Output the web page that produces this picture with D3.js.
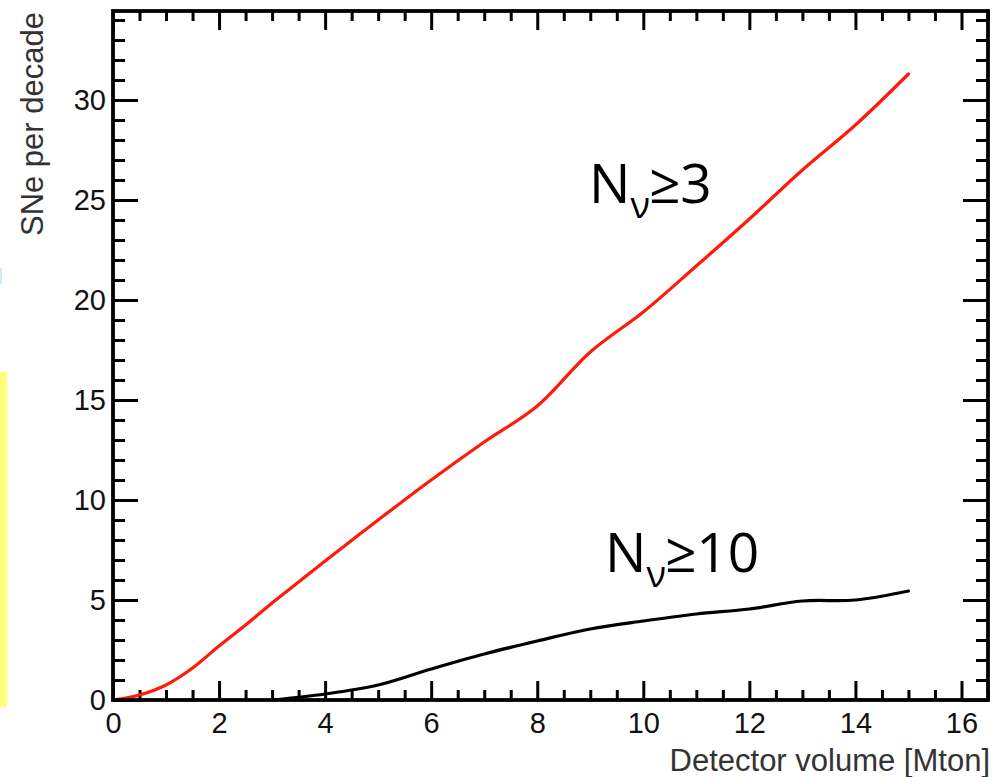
<!DOCTYPE html>
<html>
<head>
<meta charset="utf-8">
<script src="https://cdn.jsdelivr.net/npm/d3@7"></script>
<style>
  html, body { margin: 0; padding: 0; background: #fff; }
  svg { display: block; }
  .axis text { font-family: "Liberation Sans", Arial, sans-serif; fill: #111; }
  .axis line { stroke: #000; stroke-width: 3; }
  .axis path { display: none; }
</style>
</head>
<body>
<svg id="chart" width="1003" height="777"></svg>
<script>
// --- data ---
const volumeN3 = [0, 0.5, 1, 1.5, 2, 2.5, 3, 3.5, 4, 5, 6, 7, 8, 9, 10, 11, 12, 13, 14, 15];
const snN3 = [0, 0.25, 0.75, 1.6, 2.7, 3.75, 4.85, 5.9, 6.95, 9.0, 11.0, 12.9, 14.7, 17.4, 19.4, 21.7, 24.05, 26.5, 28.75, 31.3];

const volumeN10 = [3, 4, 5, 6, 7, 8, 9, 10, 11, 12, 13, 14, 15];
const snN10 = [0, 0.3, 0.75, 1.55, 2.3, 2.95, 3.55, 3.95, 4.3, 4.55, 4.95, 5.0, 5.45];

const xMajorTicks = [0, 2, 4, 6, 8, 10, 12, 14, 16];
const yMajorTicks = [0, 5, 10, 15, 20, 25, 30];
const xTitle = "Detector volume [Mton]";
const yTitle = "SNe per decade";

// --- layout ---
const width = 1003;
const height = 777;
const margin = { left: 113, right: 15, top: 11, bottom: 77 };

const svg = d3.select("#chart");

// slide artefacts on the left edge
svg.append("rect").attr("x", 0).attr("y", 372).attr("width", 7).attr("height", 335).attr("fill", "#ffff78");
svg.append("rect").attr("x", 0).attr("y", 268).attr("width", 2).attr("height", 16).attr("fill", "#cfeaff");

const xScale = d3.scaleLinear()
	.domain([0, 16.5])
	.range([margin.left, width - margin.right]);

const yScale = d3.scaleLinear()
	.domain([0, 34.45])
	.range([height - margin.bottom, margin.top]);

const x0 = xScale.range()[0], x1 = xScale.range()[1];
const y0 = yScale.range()[0], y1 = yScale.range()[1];

const xMinor = d3.range(0, 16.5 + 1e-9, 0.5).filter((v) => v % 2 !== 0);
const yMinor = d3.range(0, 34.45, 1).filter((v) => v % 5 !== 0);

// bottom axis
svg.append("g").attr("class", "axis")
	.attr("transform", `translate(0,${y0})`)
	.call(d3.axisBottom(xScale).tickValues(xMajorTicks).tickSize(-19).tickSizeOuter(0).tickFormat(d3.format("d")))
	.call((g) => g.selectAll("text").attr("font-size", 29).attr("y", 12).attr("dy", "0.71em"));
svg.append("g").attr("class", "axis")
	.attr("transform", `translate(0,${y0})`)
	.call(d3.axisBottom(xScale).tickValues(xMinor).tickSize(-10).tickSizeOuter(0).tickFormat(""));

// top axis (mirror)
svg.append("g").attr("class", "axis")
	.attr("transform", `translate(0,${y1})`)
	.call(d3.axisTop(xScale).tickValues(xMajorTicks).tickSize(-19).tickSizeOuter(0).tickFormat(""));
svg.append("g").attr("class", "axis")
	.attr("transform", `translate(0,${y1})`)
	.call(d3.axisTop(xScale).tickValues(xMinor).tickSize(-10).tickSizeOuter(0).tickFormat(""));

// left axis
svg.append("g").attr("class", "axis")
	.attr("transform", `translate(${x0},0)`)
	.call(d3.axisLeft(yScale).tickValues(yMajorTicks).tickSize(-25).tickSizeOuter(0).tickPadding(7).tickFormat(d3.format("d")))
	.call((g) => g.selectAll("text").attr("font-size", 29));
svg.append("g").attr("class", "axis")
	.attr("transform", `translate(${x0},0)`)
	.call(d3.axisLeft(yScale).tickValues(yMinor).tickSize(-12).tickSizeOuter(0).tickFormat(""));

// right axis (mirror)
svg.append("g").attr("class", "axis")
	.attr("transform", `translate(${x1},0)`)
	.call(d3.axisRight(yScale).tickValues(yMajorTicks).tickSize(-25).tickSizeOuter(0).tickFormat(""));
svg.append("g").attr("class", "axis")
	.attr("transform", `translate(${x1},0)`)
	.call(d3.axisRight(yScale).tickValues(yMinor).tickSize(-12).tickSizeOuter(0).tickFormat(""));

// curves
const line = d3.line()
	.x((d) => xScale(d[0]))
	.y((d) => yScale(d[1]))
	.curve(d3.curveCatmullRom.alpha(0.5));

svg.append("path")
	.datum(d3.zip(volumeN3, snN3))
	.attr("fill", "none")
	.attr("stroke", "#ff1a0a")
	.attr("stroke-width", 3.2)
	.attr("stroke-linecap", "round")
	.attr("d", line);

svg.append("path")
	.datum(d3.zip(volumeN10, snN10))
	.attr("fill", "none")
	.attr("stroke", "#000")
	.attr("stroke-width", 3.2)
	.attr("stroke-linecap", "round")
	.attr("d", line);

// frame
svg.append("rect")
	.attr("x", x0).attr("y", y1)
	.attr("width", x1 - x0).attr("height", y0 - y1)
	.attr("fill", "none")
	.attr("stroke", "#000")
	.attr("stroke-width", 3.8);

// axis titles
svg.append("text")
	.attr("x", x1 + 2).attr("y", 771)
	.attr("text-anchor", "end")
	.attr("font-family", "Liberation Sans, Arial, sans-serif")
	.attr("font-size", 31)
	.attr("fill", "#333")
	.text(xTitle);

svg.append("text")
	.attr("transform", `translate(43,${y1 + 1}) rotate(-90)`)
	.attr("text-anchor", "end")
	.attr("font-family", "Liberation Sans, Arial, sans-serif")
	.attr("font-size", 31)
	.attr("fill", "#333")
	.text(yTitle);

// annotations
function label(x, y, rest) {
	const t = svg.append("text")
		.attr("x", x).attr("y", y)
		.attr("font-family", "Open Sans, Noto Sans, sans-serif")
		.attr("font-size", 55)
		.attr("fill", "#000");
	t.append("tspan").text("N");
	t.append("tspan").attr("font-size", 36).attr("dy", 15).text("ν");
	t.append("tspan").attr("dy", -15).attr("dx", -1).text("≥" + rest);
}
label(589, 203, "3");
label(605, 572, "10");
</script>
</body>
</html>
